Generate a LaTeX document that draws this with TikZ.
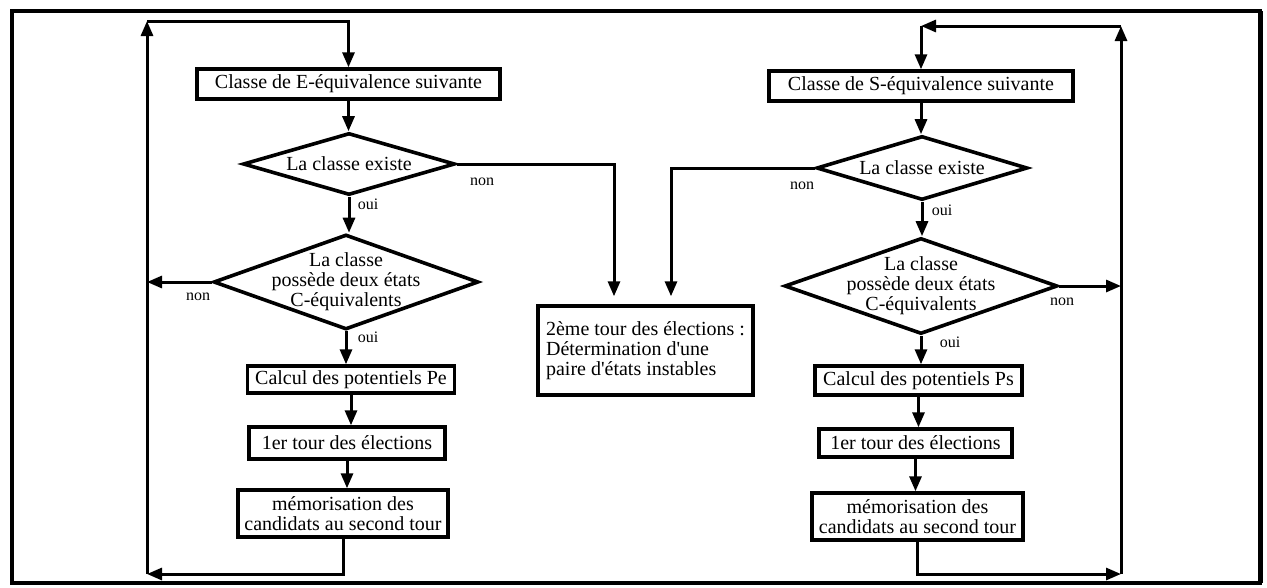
\documentclass[tikz,border=0pt]{standalone}
\usepackage{fontspec}
\setmainfont{Liberation Serif}[Ligatures=TeXOff]
\usetikzlibrary{shapes.geometric,arrows.meta}
\begin{document}
\begin{tikzpicture}[x=1pt,y=-1pt,
  box/.style={draw,line width=3.4pt,rectangle,inner sep=0pt,font=\fontsize{20}{20}\selectfont,align=center},
  dia/.style={draw,line width=3.6pt,diamond,inner sep=0pt},
  dtext/.style={font=\fontsize{20}{20}\selectfont,align=center,inner sep=0pt},
  conn/.style={line width=3pt},
  arr/.style={conn,-{Triangle[length=15pt,width=12pt]}},
  lbl/.style={font=\fontsize{16}{16}\selectfont,inner sep=0pt}
]
\useasboundingbox (0,0) rectangle (1267,587);
% outer frame
\draw[line width=3.4pt] (12,11) rectangle (1260,583);
\draw[line width=5pt] (1260,11) -- (1260,583);

% left column
\node[box,minimum width=303pt,minimum height=30pt] (bE) at (348.5,84) {Classe de E-équivalence suivante};
\node[dia,minimum width=212pt,minimum height=62pt,label={[dtext]center:La classe existe}] (dE1) at (349,164) {};
\node[dia,minimum width=265pt,minimum height=95pt,label={[dtext]center:La classe\\possède deux états\\C-équivalents}] (dE2) at (346,282) {};
\node[box,minimum width=207pt,minimum height=27pt] (bPe) at (351,379.5) {Calcul des potentiels Pe};
\node[box,minimum width=196pt,minimum height=32pt] (b1E) at (347,443) {1er tour des élections};
\node[box,minimum width=210pt,minimum height=47pt] (bmE) at (343,513.5) {mémorisation des\\candidats au second tour};

% center box
\node[box,minimum width=215pt,minimum height=89pt,align=left] (bC) at (645.5,350.5) {2ème tour des élections :\\Détermination d'une\\paire d'états instables};

% right column
\node[box,minimum width=304pt,minimum height=30pt] (bS) at (921,86) {Classe de S-équivalence suivante};
\node[dia,minimum width=211pt,minimum height=64pt,label={[dtext]center:La classe existe}] (dS1) at (922,168) {};
\node[dia,minimum width=273pt,minimum height=96pt,label={[dtext]center:La classe\\possède deux états\\C-équivalents}] (dS2) at (921,286) {};
\node[box,minimum width=207pt,minimum height=29pt] (bPs) at (918.5,380.5) {Calcul des potentiels Ps};
\node[box,minimum width=193pt,minimum height=28pt] (b1S) at (915.5,443) {1er tour des élections};
\node[box,minimum width=211pt,minimum height=47pt] (bmS) at (917.5,516.5) {mémorisation des\\candidats au second tour};

% loop corners
\coordinate (lBL) at (147,574);
\coordinate (lTL) at (147,21);
\coordinate (rBR) at (1121,574);
\coordinate (rTR) at (1121,26);
\coordinate (rTL) at (bS.north |- rTR);

% left connectors
\draw[arr] (lTL) -| (bE.north);
\draw[arr] (bE.south) -- (bE.south |- dE1.north);
\draw[arr] (dE1.south) -- (dE1.south |- dE2.north);
\draw[arr] (dE2.south) -- (dE2.south |- bPe.north);
\draw[arr] (bPe.south) -- (bPe.south |- b1E.north);
\draw[arr] (b1E.south) -- (b1E.south |- bmE.north);
\draw[arr] (bmE.south) |- (lBL);
\draw[arr] (lBL) -- (lTL);
\draw[arr] (dE2.west) -- (dE2.west -| lBL);
\draw[arr,shorten >=8pt] (dE1.east) -| ([xshift=-31.5pt]bC.north);

% right connectors
\draw[arr] (rTL) -- (bS.north);
\draw[arr] (bS.south) -- (bS.south |- dS1.north);
\draw[arr] (dS1.south) -- (dS1.south |- dS2.north);
\draw[arr] (dS2.south) -- (dS2.south |- bPs.north);
\draw[arr] (bPs.south) -- (bPs.south |- b1S.north);
\draw[arr] (b1S.south) -- (b1S.south |- bmS.north);
\draw[arr] (bmS.south) |- (rBR);
\draw[arr] (rBR) -- (rTR);
\draw[arr] (rTR) -- (rTL);
\draw[arr] (dS2.east) -- (dS2.east -| rBR);
\draw[arr,shorten >=8pt] (dS1.west) -| ([xshift=25.5pt]bC.north);

% labels
\node[lbl] (nE1) at (482,182) {non};
\node[lbl] (oE1) at (368,204) {oui};
\node[lbl] (nE2) at (198,297) {non};
\node[lbl] (oE2) at (368,337) {oui};
\node[lbl] (nS1) at (802,186) {non};
\node[lbl] (oS1) at (942,210) {oui};
\node[lbl] (nS2) at (1062,302) {non};
\node[lbl] (oS2) at (950,342) {oui};
\end{tikzpicture}
\end{document}
